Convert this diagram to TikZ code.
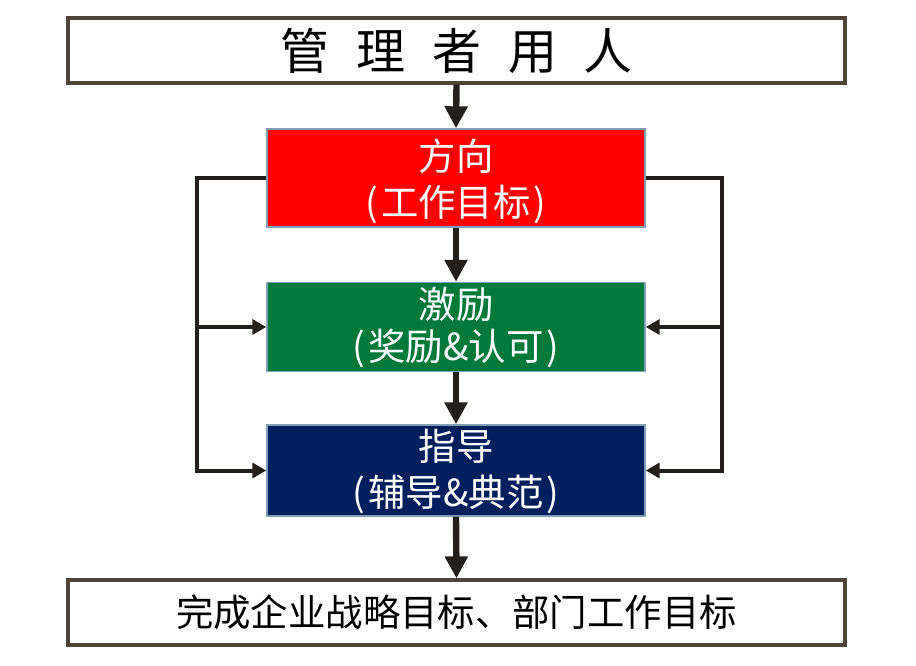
\documentclass[tikz,border=0pt]{standalone}
\usepackage{fontspec}
\setmainfont{Noto Sans CJK SC}
\usepackage{xcolor}
\usetikzlibrary{arrows.meta,positioning}

\definecolor{framebrown}{HTML}{4D4538}
\definecolor{edgeblue}{HTML}{7F9FB4}
\definecolor{linedark}{HTML}{231F1C}
\definecolor{boxred}{HTML}{FF0000}
\definecolor{boxgreen}{HTML}{00793A}
\definecolor{boxnavy}{HTML}{001F5C}

\newcommand{\paren}[1]{(\kern1.5pt#1\kern1.5pt)}

\tikzset{
    outerbox/.style={draw=framebrown, line width=1.6pt, fill=white, inner sep=0pt,
        minimum width=388.5pt, minimum height=32.5pt},
    stagebox/.style={draw=edgeblue, line width=0.7pt, inner sep=0pt,
        minimum width=189pt},
    % #1 = shift of the text, #2 = line spacing
    stagetext/.style 2 args={text=white, align=center, yshift=#1,
        font=\fontsize{18.7}{#2}\selectfont},
    mainarrow/.style={-{Triangle[length=11pt,width=11pt]}, line width=3.2pt, linedark},
    backarrow/.style={-{Triangle[length=7pt,width=7.5pt]}, line width=2pt, linedark, line join=miter}
}

\begin{document}
\begin{tikzpicture}[x=0.5pt, y=-0.5pt]
    \useasboundingbox (0,0) rectangle (916,665);

    % Top and bottom frames
    \node[outerbox, font=\fontsize{24.5}{28}\selectfont] (manager) at (456.5,50.5)
        {管\hspace{13.5pt}理\hspace{13.5pt}者\hspace{13.5pt}用\hspace{13.5pt}人};
    \node[outerbox, font=\fontsize{18.7}{22}\selectfont] (goal) at (456.5,612.5)
        {完成企业战略目标、部门工作目标};

    % Three stages
    \node[stagebox, fill=boxred, minimum height=49pt,
        label={[stagetext={-1.5pt}{23pt}, name=directiontext]center:方向\\\paren{工作目标}}] (direction) at (456,178) {};
    \node[stagebox, fill=boxgreen, minimum height=44.5pt,
        label={[stagetext={0pt}{21pt}, name=motivatetext]center:激励\\\paren{奖励\&认可}}] (motivate) at (456,327) {};
    \node[stagebox, fill=boxnavy, minimum height=45.5pt,
        label={[stagetext={-0.5pt}{23pt}, name=coachtext]center:指导\\\paren{辅导\&典范}}] (coach) at (456,470.5) {};

    % Main flow down the middle
    \draw[mainarrow] (manager.south) -- (direction.north);
    \draw[mainarrow] (direction.south) -- (motivate.north);
    \draw[mainarrow] (motivate.south) -- (coach.north);
    \draw[mainarrow] (coach.south) -- (goal.north);

    % Feedback loops on both sides
    \coordinate (leftrail) at (197,178);
    \coordinate (rightrail) at (722,178);
    \draw[backarrow] (direction.west) -- (leftrail) |- (coach.west);
    \draw[backarrow] (leftrail |- motivate.west) -- (motivate.west);
    \draw[backarrow] (direction.east) -- (rightrail) |- (coach.east);
    \draw[backarrow] (rightrail |- motivate.east) -- (motivate.east);
\end{tikzpicture}
\end{document}
